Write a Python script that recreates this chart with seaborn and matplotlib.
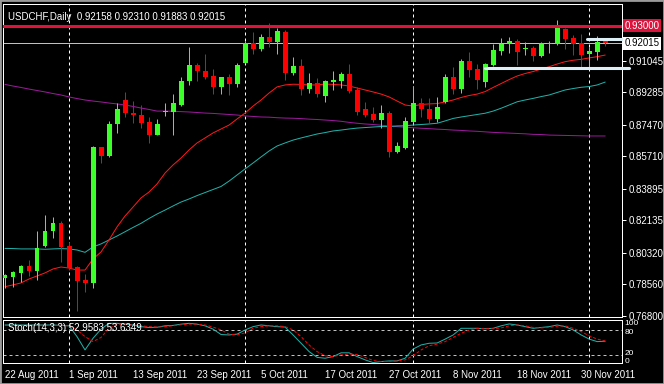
import numpy as np
import pandas as pd
import matplotlib
matplotlib.use('Agg')
import matplotlib.pyplot as plt
import matplotlib.transforms as mtransforms
import matplotlib.patches as mpatches
import seaborn as sns

# daily candles USDCHF, 22 Aug 2011 -> 5 Dec 2011
opens = [0.7891, 0.7898, 0.7920, 0.7956, 0.7931, 0.8071, 0.8155, 0.8200, 0.8071, 0.7950,
         0.7879, 0.7861, 0.8621, 0.8574, 0.8749, 0.8885, 0.8814, 0.8801, 0.8762, 0.8691,
         0.8816, 0.8820, 0.8857, 0.8989, 0.9079, 0.9047, 0.9019, 0.8959, 0.9013, 0.8976,
         0.9093, 0.9202, 0.9172, 0.9237, 0.9211, 0.9265, 0.9037, 0.9075, 0.8948, 0.8982,
         0.8909, 0.8987, 0.8993, 0.9030, 0.8941, 0.8836, 0.8807, 0.8773, 0.8814, 0.8594,
         0.8617, 0.8764, 0.8867, 0.8836, 0.8780, 0.8875, 0.9012, 0.8948, 0.9103, 0.9058,
         0.8987, 0.9082, 0.9160, 0.9196, 0.9215, 0.9170, 0.9175, 0.9132, 0.9198, 0.9196,
         0.9282, 0.9233, 0.9202, 0.9140, 0.9155, 0.92158]
highs = [0.7913, 0.7931, 0.7963, 0.7991, 0.8155, 0.8243, 0.8233, 0.8209, 0.8093, 0.7958,
         0.7911, 0.8628, 0.8625, 0.8768, 0.8867, 0.8930, 0.8879, 0.8857, 0.8792, 0.8777,
         0.8870, 0.8918, 0.9015, 0.9179, 0.9090, 0.9142, 0.9056, 0.9013, 0.9030, 0.9090,
         0.9216, 0.9263, 0.9254, 0.9313, 0.9285, 0.9276, 0.9123, 0.9112, 0.9037, 0.9006,
         0.8997, 0.9049, 0.9043, 0.9086, 0.8956, 0.8875, 0.8844, 0.8857, 0.8825, 0.8650,
         0.8792, 0.8963, 0.8898, 0.8896, 0.8903, 0.9030, 0.9068, 0.9112, 0.9155, 0.9086,
         0.9093, 0.9198, 0.9230, 0.9239, 0.9226, 0.9207, 0.9187, 0.9211, 0.9216, 0.9332,
         0.9285, 0.9248, 0.9254, 0.9183, 0.9242, 0.92310]
lows = [0.7835, 0.7842, 0.7870, 0.7902, 0.7879, 0.8065, 0.8116, 0.7982, 0.7935, 0.7708,
        0.7814, 0.7836, 0.8535, 0.8569, 0.8702, 0.8792, 0.8758, 0.8727, 0.8646, 0.8689,
        0.8796, 0.8689, 0.8851, 0.8969, 0.8993, 0.9004, 0.8918, 0.8918, 0.8913, 0.8959,
        0.9090, 0.9142, 0.9160, 0.9183, 0.9142, 0.8997, 0.9023, 0.8913, 0.8922, 0.8900,
        0.8875, 0.8941, 0.8950, 0.8926, 0.8801, 0.8788, 0.8764, 0.8727, 0.8565, 0.8587,
        0.8610, 0.8758, 0.8788, 0.8758, 0.8764, 0.8870, 0.8918, 0.8922, 0.9012, 0.8945,
        0.8959, 0.9077, 0.9136, 0.9149, 0.9080, 0.9136, 0.9103, 0.9123, 0.9149, 0.9192,
        0.9170, 0.9136, 0.9071, 0.9071, 0.9108, 0.91883]
closes = [0.7907, 0.7924, 0.7956, 0.7931, 0.8057, 0.8151, 0.8196, 0.8062, 0.7944, 0.7876,
          0.7861, 0.8624, 0.8574, 0.8749, 0.8833, 0.8811, 0.8799, 0.8758, 0.8691, 0.8751,
          0.8825, 0.8867, 0.8991, 0.9079, 0.9045, 0.9015, 0.8959, 0.9012, 0.8976, 0.9080,
          0.9202, 0.9170, 0.9237, 0.9211, 0.9270, 0.9037, 0.9075, 0.8948, 0.8978, 0.8918,
          0.8993, 0.8997, 0.9030, 0.8937, 0.8818, 0.8801, 0.8773, 0.8811, 0.8594, 0.8628,
          0.8766, 0.8867, 0.8833, 0.8780, 0.8848, 0.9012, 0.8948, 0.9103, 0.9053, 0.8997,
          0.9086, 0.9164, 0.9198, 0.9215, 0.9155, 0.9174, 0.9132, 0.9202, 0.9202, 0.9304,
          0.9226, 0.9198, 0.9136, 0.9159, 0.9207, 0.92015]

# moving averages as drawn on the chart
ma_red = [0.7842, 0.7852, 0.7863, 0.7885, 0.7902, 0.7919, 0.7941, 0.7952, 0.7946, 0.7935,
          0.7935, 0.7997, 0.8036, 0.8103, 0.8176, 0.8237, 0.8287, 0.8338, 0.8371, 0.8416,
          0.8477, 0.8522, 0.8561, 0.8606, 0.8645, 0.8673, 0.8701, 0.8723, 0.8745, 0.8779,
          0.8812, 0.8851, 0.8885, 0.8924, 0.8958, 0.8969, 0.8973, 0.8972, 0.8969, 0.8969,
          0.8974, 0.8972, 0.8969, 0.8963, 0.8952, 0.8941, 0.8930, 0.8918, 0.8902, 0.8879,
          0.8857, 0.8851, 0.8860, 0.8863, 0.8865, 0.8874, 0.8885, 0.8899, 0.8910, 0.8918,
          0.8932, 0.8955, 0.8977, 0.8999, 0.9019, 0.9033, 0.9044, 0.9058, 0.9071, 0.9086,
          0.9099, 0.9107, 0.9112, 0.9120, 0.9127, 0.9136]
ma_teal = [0.8056, 0.8055, 0.8053, 0.8053, 0.8053, 0.8051, 0.8053, 0.8055, 0.8053, 0.8047,
           0.8034, 0.8064, 0.8081, 0.8103, 0.8125, 0.8149, 0.8173, 0.8196, 0.8223, 0.8248,
           0.8270, 0.8293, 0.8315, 0.8332, 0.8351, 0.8368, 0.8385, 0.8402, 0.8432, 0.8466,
           0.8500, 0.8533, 0.8567, 0.8600, 0.8628, 0.8645, 0.8661, 0.8673, 0.8684, 0.8695,
           0.8703, 0.8712, 0.8717, 0.8723, 0.8728, 0.8731, 0.8734, 0.8737, 0.8737, 0.8740,
           0.8741, 0.8745, 0.8748, 0.8751, 0.8755, 0.8768, 0.8782, 0.8790, 0.8797, 0.8804,
           0.8811, 0.8823, 0.8839, 0.8857, 0.8875, 0.8885, 0.8894, 0.8904, 0.8913, 0.8927,
           0.8941, 0.8949, 0.8956, 0.8960, 0.8969, 0.8985]
ma_purple = [0.8972, 0.8963, 0.8955, 0.8946, 0.8938, 0.8930, 0.8921, 0.8913, 0.8902, 0.8893,
             0.8885, 0.8879, 0.8874, 0.8868, 0.8863, 0.8857, 0.8849, 0.8840, 0.8832, 0.8823,
             0.8823, 0.8822, 0.8820, 0.8818, 0.8815, 0.8812, 0.8810, 0.8807, 0.8804, 0.8801,
             0.8796, 0.8793, 0.8790, 0.8789, 0.8786, 0.8784, 0.8783, 0.8781, 0.8778, 0.8776,
             0.8773, 0.8770, 0.8766, 0.8760, 0.8755, 0.8751, 0.8748, 0.8744, 0.8740, 0.8736,
             0.8733, 0.8730, 0.8727, 0.8725, 0.8722, 0.8720, 0.8717, 0.8715, 0.8712, 0.8710,
             0.8707, 0.8704, 0.8702, 0.8700, 0.8698, 0.8696, 0.8693, 0.8692, 0.8689, 0.8688,
             0.8687, 0.8686, 0.8685, 0.8684, 0.8684, 0.8684]

# Stochastic (14,3,3)
stoch_main = [92, 92, 92, 92, 92, 92, 92, 91, 90, 64, 32, 60, 82, 96, 96, 94, 92, 88, 86, 86.5,
              90, 91, 94, 96, 94, 90, 82, 69, 68, 70, 80, 88, 92, 90, 88, 87, 68, 48, 28, 14,
              12, 16, 25, 25, 16, 8, 1.5, 4, 5.5, 5.5, 12, 34, 44, 48, 48.7, 58, 68, 84, 84, 84,
              83, 84, 90, 94.5, 92, 88, 84, 86, 88, 92, 88, 80, 68, 58, 52, 52.9583]
stoch_signal = [91, 91, 91, 91, 91, 91, 91, 91, 90, 80, 64, 52, 62, 84, 94, 94, 92, 90, 88, 87,
                88, 90, 92.5, 94, 94, 92, 87, 80, 70, 68, 73, 84, 88, 90, 90, 88, 80, 64, 44, 28,
                18, 16, 20, 22, 21, 14, 6.5, 4, 4, 5.5, 8, 18, 32, 42, 46, 52, 62, 72, 80, 84,
                83, 83, 85, 90, 92, 90, 86, 85, 86, 89, 90, 84, 76, 66, 58, 53.6349]

price_ticks = [0.91045, 0.89285, 0.87470, 0.85710, 0.83895, 0.82135, 0.80320, 0.78560, 0.76800]
resistance = 0.93000
trend_low = 0.9064
trend_high = 0.9226

dates = pd.bdate_range('2011-08-22', periods=len(opens))
idx = np.arange(len(opens))

sns.set_theme(style='dark')
plt.rcParams['font.family'] = ['Liberation Sans', 'DejaVu Sans']
fs = 7
px = 0.72  # one screen pixel in points
bull = '#3cff2a'
bear = '#ff0000'
frame = 'white'

fig = plt.figure(figsize=(6.64, 3.84), dpi=100, facecolor='black')
ax = fig.add_axes([3/664, 1-317/384, 619/664, 313/384], facecolor='black')
ax2 = fig.add_axes([3/664, 1-363/384, 619/664, 43/384], facecolor='black')

# candles
o = np.array(opens); c = np.array(closes)
cols = [bull if cc >= oo else bear for oo, cc in zip(o, c)]
body_lo = np.minimum(o, c)
body_h = np.maximum(np.abs(c - o), 0.0004)
ax.vlines(idx, lows, highs, colors=cols, linewidth=px, zorder=3)
ax.bar(idx, body_h, bottom=body_lo, width=0.62, color=cols, linewidth=0, zorder=4)

# moving averages
sns.lineplot(x=idx, y=ma_purple, color='#9a1a9a', linewidth=px, ax=ax, zorder=2)
sns.lineplot(x=idx, y=ma_teal, color='#20b2aa', linewidth=px, ax=ax, zorder=2)
sns.lineplot(x=idx, y=ma_red, color='#ff1a1a', linewidth=px, ax=ax, zorder=2)

# horizontal levels
ax.axhline(resistance, color='#dc143c', linewidth=2.2, zorder=5)
ax.axhline(closes[-1], color='#c0c0c0', linewidth=px, zorder=1)
ax.plot([60, 78], [trend_low, trend_low], color='#dceef6', linewidth=2.2, zorder=6, clip_on=False)
ax.plot([72.7, 77.1], [trend_high, trend_high], color='#dceef6', linewidth=2.2, zorder=6, clip_on=False)

# month separators
for a in (ax, ax2):
    for m in [8, 30, 51, 73]:
        a.axvline(m, color='white', linewidth=px, linestyle=(0, (3, 3)), zorder=1)

ax.set_xlim(-0.25, 77.1)
ax.set_ylim(0.76727, 0.94212)
ax.set_xticks([])
ax.yaxis.tick_right()
ax.set_yticks(price_ticks)
ax.set_yticklabels([f'{t:.5f}' for t in price_ticks])
ax.tick_params(axis='y', colors=frame, labelsize=fs, length=3, width=px, pad=2, direction='out')
ax.set_xlabel(''); ax.set_ylabel('')

tr = mtransforms.blended_transform_factory(ax.transAxes, ax.transData)
ax.text(1.004, resistance, '0.93000', transform=tr, color='white', fontsize=fs, va='center', ha='left',
        bbox=dict(facecolor='#dc143c', edgecolor='none', pad=1.2), zorder=10, clip_on=False)
ax.text(1.004, closes[-1], '0.92015', transform=tr, color='black', fontsize=fs, va='center', ha='left',
        bbox=dict(facecolor='white', edgecolor='none', pad=1.2), zorder=10, clip_on=False)

ax.text(0.008, 0.975, 'USDCHF,Daily  %.5f %.5f %.5f %.5f' % (opens[-1], highs[-1], lows[-1], closes[-1]),
        transform=ax.transAxes, color='white', fontsize=fs, va='top', ha='left')

# stochastic window
sns.lineplot(x=idx, y=stoch_main, color='#20b2aa', linewidth=px, ax=ax2, zorder=3)
sns.lineplot(x=idx, y=stoch_signal, color='#ff0000', linewidth=px, linestyle=(0, (3, 2)), ax=ax2, zorder=3)
for lvl in (80, 20):
    ax2.axhline(lvl, color='#c0c0c0', linewidth=px, linestyle=(0, (3, 3)), zorder=1)
ax2.set_xlim(-0.25, 77.1)
ax2.set_ylim(0.5, 104)
ax2.yaxis.tick_right()
ax2.set_yticks([])
tr2 = mtransforms.blended_transform_factory(ax2.transAxes, ax2.transData)
for lab, yv in [('100', 95), ('80', 75), ('20', 24), ('0', 4)]:
    ax2.text(1.004, yv, lab, transform=tr2, color='white', fontsize=6, va='center', ha='left', clip_on=False)
ax2.text(0.008, 0.93, 'Stoch(14,3,3) %.4f %.4f' % (stoch_main[-1], stoch_signal[-1]),
         transform=ax2.transAxes, color='white', fontsize=fs, va='top', ha='left')

tick_pos = list(range(0, len(opens), 8))
ax2.set_xticks(tick_pos)
ax2.set_xticklabels([f'{dates[i].day} {dates[i]:%b %Y}' for i in tick_pos])
for lbl in ax2.get_xticklabels():
    lbl.set_horizontalalignment('left')
ax2.tick_params(axis='x', colors=frame, labelsize=fs, length=3, width=px, pad=2, direction='out')
ax2.set_xlabel(''); ax2.set_ylabel('')

for a in (ax, ax2):
    a.grid(False)
    for s in a.spines.values():
        s.set_color(frame)
        s.set_linewidth(px)
        s.set_visible(True)

fig.patches.append(mpatches.Rectangle((0, 0), 1, 1, transform=fig.transFigure, fill=False,
                                      edgecolor='#9a9a9a', linewidth=2))

fig.savefig('out.png', dpi=100, facecolor='black')
